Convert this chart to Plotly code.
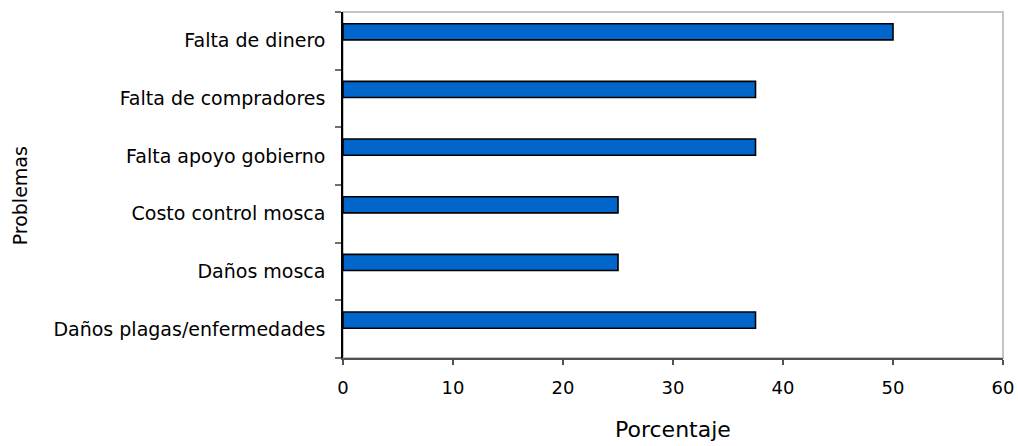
import plotly.graph_objects as go

# Problems reported, listed bottom to top
problemas = [
    "Daños plagas/enfermedades",
    "Daños mosca",
    "Costo control mosca",
    "Falta apoyo gobierno",
    "Falta de compradores",
    "Falta de dinero",
]
porcentaje = [37.5, 25, 25, 37.5, 37.5, 50]

x_ticks = [0, 10, 20, 30, 40, 50, 60]

font_family = "DejaVu Sans, Verdana, sans-serif"

fig = go.Figure()

fig.add_trace(go.Bar(
    y=problemas,
    x=porcentaje,
    orientation="h",
    width=0.28,
    offset=0.017,
    marker=dict(color="#0066CC", line=dict(color="#000000", width=1.6)),
    hoverinfo="x+y",
))

# light frame on the top and right sides of the plot area
fig.add_shape(
    type="rect", xref="paper", yref="paper",
    x0=0, y0=0, x1=1, y1=1,
    line=dict(color="#c4c4c4", width=2),
    layer="below",
)

# axis titles
fig.add_annotation(
    text="Porcentaje", xref="paper", yref="paper",
    x=0.5, y=-0.208, xanchor="center", yanchor="middle",
    showarrow=False, font=dict(size=22, family=font_family, color="#000000"),
)
fig.add_annotation(
    text="Problemas", xref="paper", yref="paper",
    x=-0.489, y=0.468, xanchor="center", yanchor="middle", textangle=-90,
    showarrow=False, font=dict(size=19, family=font_family, color="#000000"),
)

fig.update_layout(
    width=1018,
    height=446,
    margin=dict(l=343, r=15, t=12, b=88, autoexpand=False),
    paper_bgcolor="white",
    plot_bgcolor="white",
    showlegend=False,
    font=dict(family=font_family, color="#000000", size=18),
    xaxis=dict(
        range=[0, 60],
        tickvals=x_ticks,
        ticktext=[str(v) for v in x_ticks],
        ticks="outside",
        ticklen=5,
        tickwidth=1.5,
        tickcolor="#505050",
        showline=True,
        linecolor="#505050",
        linewidth=1.5,
        showgrid=False,
        zeroline=False,
        automargin=False,
        tickfont=dict(size=18),
        ticklabelstandoff=8,
    ),
    yaxis=dict(
        type="category",
        categoryorder="array",
        categoryarray=problemas,
        tickson="boundaries",
        ticks="outside",
        ticklen=6,
        tickwidth=1.5,
        tickcolor="#707070",
        showline=True,
        linecolor="#000000",
        linewidth=1.5,
        showgrid=False,
        zeroline=False,
        automargin=False,
        tickfont=dict(size=19),
        ticklabelstandoff=12,
    ),
)

fig.write_html("out.html")
